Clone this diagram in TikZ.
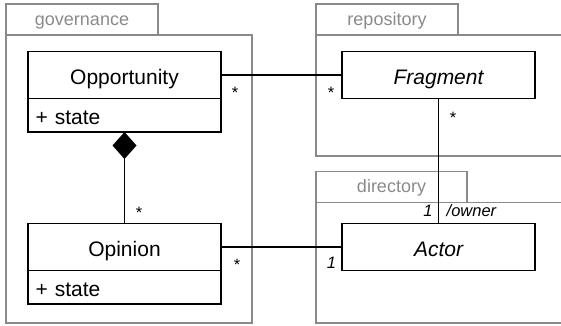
\documentclass[tikz,border=0pt]{standalone}
\usepackage{fontspec}
\setmainfont{Liberation Sans}
\usetikzlibrary{arrows.meta}
\definecolor{pkggray}{RGB}{138,138,138}
\begin{document}
\begin{tikzpicture}[x=1pt,y=-1pt,
 cls/.style={draw=black, line width=1.5pt, fill=white, inner sep=0pt, outer sep=0pt, minimum width=193pt, font=\fontsize{21}{25}\selectfont, text height=18pt, text depth=0pt},
 clsname/.style={cls, minimum height=47pt},
 absname/.style={clsname, font=\fontsize{21}{25}\selectfont\itshape},
 attr/.style={cls, minimum height=33.5pt, inner xsep=7.5pt, text width=178pt, align=left},
 tab/.style={draw=pkggray, line width=1.3pt, text=pkggray, inner sep=0pt, outer sep=0pt, minimum height=31pt, anchor=north west, font=\fontsize{18}{22}\selectfont, text height=11.5pt, text depth=0pt},
 pkg/.style={draw=pkggray, line width=1.3pt},
 conn/.style={draw=black, line width=1.4pt},
 mult/.style={anchor=base, inner sep=0pt, font=\fontsize{16.5}{20}\selectfont},
 role/.style={mult, font=\fontsize{16.5}{20}\selectfont\itshape}
]
\useasboundingbox (0,0) rectangle (561,325);
\clip (0,0) rectangle (561,325);
% packages
\node[tab, minimum width=152pt] (govtab) at (6,4) {governance};
\draw[pkg] (govtab.south west) rectangle (252,323);
\node[tab, minimum width=142pt] (reptab) at (316,4) {repository};
\draw[pkg] (reptab.south west) rectangle (620,156);
\node[tab, minimum width=151pt] (dirtab) at (316,171.5) {directory};
\draw[pkg] (dirtab.south west) rectangle (620,323);
% classes
\node[clsname] (opp) at (124.5,75) {Opportunity};
\node[attr, anchor=north] (oppattr) at (opp.south) {+ state};
\node[clsname] (opi) at (124.5,247) {Opinion};
\node[attr, anchor=north] (opiattr) at (opi.south) {+ state};
\node[absname] (frag) at (438.5,75) {Fragment};
\node[absname] (actor) at (438.5,247) {Actor};
% connectors
\draw[conn] (opp.east) -- (frag.west);
\draw[conn] (frag.south) -- (actor.north);
\draw[conn] (opi.east) -- (actor.west);
\draw[conn, -{Diamond[length=27pt,width=24pt]}] (opi.north) -- (oppattr.south);
% multiplicities
\node[mult] (m1) at (235,98) {*};
\node[mult] (m2) at (331,98) {*};
\node[mult] (m3) at (453,123) {*};
\node[mult] (m4) at (139,218) {*};
\node[mult] (m5) at (237,270) {*};
\node[role] (m6) at (331.5,268) {1};
\node[role] (m7) at (428,216) {1};
\node[role, anchor=base west] (m8) at (446.5,216) {/owner};
\end{tikzpicture}
\end{document}
